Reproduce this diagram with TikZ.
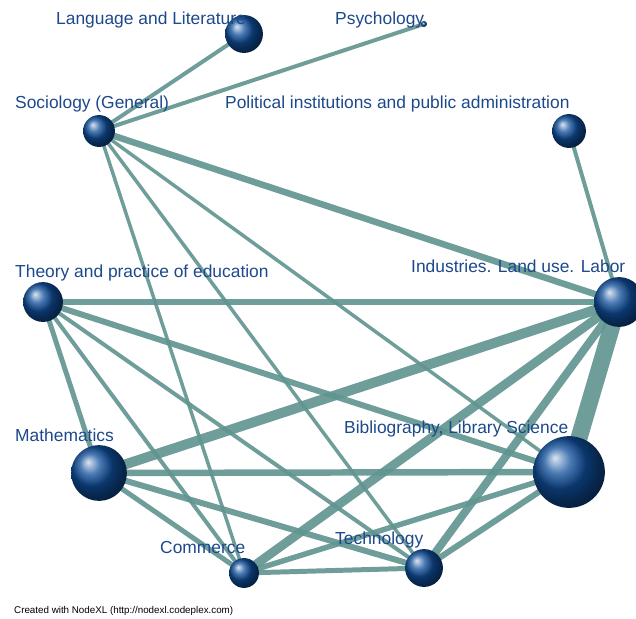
\documentclass[tikz,border=0pt]{standalone}
\usepackage{fontspec}
\setmainfont{Liberation Sans}
\usetikzlibrary{backgrounds}
\definecolor{edgeteal}{RGB}{95,148,143}
\definecolor{sphereblue}{RGB}{15,78,155}
\definecolor{labelblue}{RGB}{28,72,140}
\tikzset{
  topic/.style={circle, inner sep=0pt, ball color=sphereblue},
  tag/.style={anchor=base west, inner sep=0pt, text=labelblue, font=\fontsize{17.4bp}{20bp}\selectfont},
  link/.style={draw=edgeteal, draw opacity=0.9}
}
\begin{document}
\begin{tikzpicture}[x=1bp, y=-1bp]
\useasboundingbox (0,0) rectangle (636,619);
\node[topic, minimum size=38] (lang) at (244,34){};
\node[topic, minimum size=6] (psych) at (424,24){};
\node[topic, minimum size=32] (soc) at (99,131){};
\node[topic, minimum size=34] (pol) at (569,131){};
\node[topic, minimum size=40] (theo) at (43,302){};
\node[topic, minimum size=50] (ind) at (619,302){};
\node[topic, minimum size=56] (math) at (99,473){};
\node[topic, minimum size=72] (bib) at (569,472){};
\node[topic, minimum size=30] (com) at (244,573){};
\node[topic, minimum size=38] (tech) at (424,568){};
\begin{pgfonlayer}{background}
\draw[link, line width=4](soc.center) -- (lang.center);
\draw[link, line width=4](soc.center) -- (psych.center);
\draw[link, line width=6.5](soc.center) -- (ind.center);
\draw[link, line width=3.5](soc.center) -- (com.center);
\draw[link, line width=3.5](soc.center) -- (tech.center);
\draw[link, line width=3.5](soc.center) -- (bib.center);
\draw[link, line width=4](pol.center) -- (ind.center);
\draw[link, line width=6.5](theo.center) -- (ind.center);
\draw[link, line width=5](theo.center) -- (math.center);
\draw[link, line width=4](theo.center) -- (com.center);
\draw[link, line width=4](theo.center) -- (tech.center);
\draw[link, line width=6](theo.center) -- (bib.center);
\draw[link, line width=10](math.center) -- (ind.center);
\draw[link, line width=17](ind.center) -- (bib.center);
\draw[link, line width=9](ind.center) -- (com.center);
\draw[link, line width=8](ind.center) -- (tech.center);
\draw[link, line width=6.5](math.center) -- (bib.center);
\draw[link, line width=5](math.center) -- (com.center);
\draw[link, line width=6](math.center) -- (tech.center);
\draw[link, line width=5.5](bib.center) -- (com.center);
\draw[link, line width=6](bib.center) -- (tech.center);
\draw[link, line width=5](com.center) -- (tech.center);
\end{pgfonlayer}
\node[tag] (tLang) at (56,25){Language and Literature};
\node[tag] (tPsych) at (335,25){Psychology};
\node[tag] (tSoc) at (15,109){Sociology (General)};
\node[tag] (tPol) at (225,109){Political institutions and public administration};
\node[tag] (tTheo) at (15,277){Theory and practice of education};
\node[tag] (tInd) at (411,272){Industries. Land use. Labor};
\node[tag] (tMath) at (15,441){Mathematics};
\node[tag] (tBib) at (344,433){Bibliography, Library Science};
\node[tag] (tCom) at (160,553){Commerce};
\node[tag] (tTech) at (335,544){Technology};
\node[anchor=base west, inner sep=0pt, font=\fontsize{9.8bp}{11bp}\selectfont] (credit) at (14,613){Created with NodeXL (http://nodexl.codeplex.com)};
\end{tikzpicture}
\end{document}
